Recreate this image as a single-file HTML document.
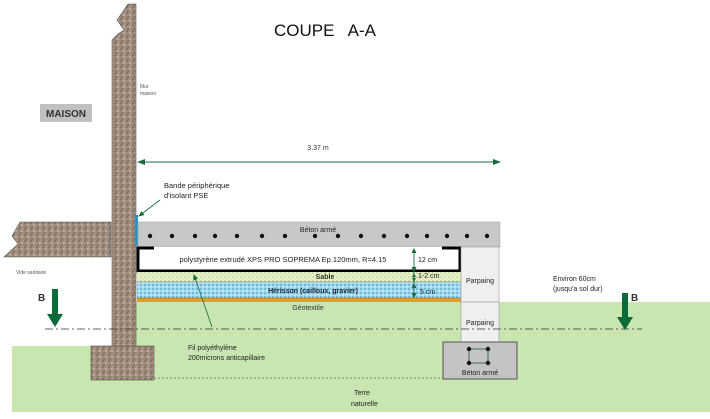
<!DOCTYPE html>
<html><head><meta charset="utf-8"><style>
html,body{margin:0;padding:0;background:#fff;width:710px;height:419px;overflow:hidden}
svg{display:block}
text{font-family:"Liberation Sans",Arial,sans-serif}
</style></head><body>
<svg width="710" height="419" viewBox="0 0 710 419" xmlns="http://www.w3.org/2000/svg">
<defs>
<pattern id="grav" width="6" height="6" patternUnits="userSpaceOnUse">
<rect width="6" height="6" fill="#a08c7c"/>
<circle cx="1" cy="1" r="0.8" fill="#6a5848"/><circle cx="4" cy="3" r="0.7" fill="#e8e0d8"/>
<circle cx="2" cy="5" r="0.6" fill="#5a4a40"/><circle cx="5" cy="0.5" r="0.5" fill="#c8bcb0"/>
</pattern>
<pattern id="sable" width="4" height="4" patternUnits="userSpaceOnUse">
<rect width="4" height="4" fill="#e4f2c8"/><circle cx="1" cy="1" r="0.6" fill="#9ab070"/><circle cx="3" cy="3" r="0.5" fill="#b8c890"/>
</pattern>
<pattern id="her" width="4" height="4" patternUnits="userSpaceOnUse">
<rect width="4" height="4" fill="#a0d8f0"/><circle cx="1" cy="1" r="0.7" fill="#2a8cc0"/><circle cx="3" cy="3" r="0.6" fill="#fff"/>
</pattern>
<marker id="ah" markerWidth="8" markerHeight="8" refX="7" refY="4" orient="auto" markerUnits="userSpaceOnUse"><path d="M0,1 L8,4 L0,7 z" fill="#1a6a40"/></marker>
<marker id="ahs" markerWidth="6" markerHeight="6" refX="5" refY="3" orient="auto" markerUnits="userSpaceOnUse"><path d="M0,0.5 L6,3 L0,5.5 z" fill="#1a6a40"/></marker>
</defs>

<rect x="136" y="302" width="574" height="45" fill="#c9e6b0"/>
<rect x="12" y="346" width="698" height="66" fill="#c9e6b0"/>

<text x="325" y="36" font-size="17" text-anchor="middle" fill="#111" xml:space="preserve">COUPE   A-A</text>

<rect x="40" y="104" width="52" height="18" fill="#c0c0c0"/>
<text x="66" y="117" font-size="10" font-weight="bold" text-anchor="middle" fill="#333">MAISON</text>

<path d="M4,257 L18,244 L12,236 L20,222 L111,222 L111,257 Z" fill="url(#grav)" stroke="#555" stroke-width="0.6"/>
<text x="16" y="274" font-size="5" fill="#555">Vide sanitaire</text>

<path d="M112,346 L112,40 L118,34 L124,30 L117,20 L128,4 L136,4 L136,346 Z" fill="url(#grav)" stroke="#555" stroke-width="0.6"/>
<text x="140" y="88" font-size="5" fill="#555">Mur</text>
<text x="140" y="95" font-size="5" fill="#555">maison</text>

<rect x="91" y="346" width="63" height="34" fill="url(#grav)" stroke="#555" stroke-width="0.6"/>

<text x="318" y="150" font-size="7" text-anchor="middle" fill="#333">3.37 m</text>
<line x1="140" y1="162" x2="500" y2="162" stroke="#1a6a40" stroke-width="1" marker-end="url(#ah)"/>
<path d="M137,162 l8,-3 v6 z" fill="#1a6a40"/>

<text x="164" y="188" font-size="7.5" fill="#222">Bande périphérique</text>
<text x="164" y="198" font-size="7.5" fill="#222">d'isolant PSE</text>
<line x1="160" y1="200" x2="139" y2="216" stroke="#1a6a40" stroke-width="0.8" marker-end="url(#ahs)"/>
<rect x="135" y="215" width="3" height="31" fill="#2a90c0"/>

<rect x="138" y="222" width="362" height="25" fill="#c8c8c8" stroke="#aaa" stroke-width="0.6"/>
<text x="318" y="232" font-size="7" text-anchor="middle" fill="#222">Béton armé</text>
<g fill="#111">
<circle cx="150" cy="236" r="2.2"/><circle cx="172" cy="236" r="2.2"/><circle cx="195" cy="236" r="2.2"/><circle cx="215" cy="236" r="2.2"/><circle cx="237" cy="236" r="2.2"/><circle cx="262" cy="236" r="2.2"/><circle cx="285" cy="236" r="2.2"/><circle cx="315" cy="236" r="2.2"/><circle cx="338" cy="236" r="2.2"/><circle cx="361" cy="236" r="2.2"/><circle cx="384" cy="236" r="2.2"/><circle cx="407" cy="236" r="2.2"/><circle cx="427" cy="236" r="2.2"/><circle cx="447" cy="236" r="2.2"/><circle cx="467" cy="236" r="2.2"/><circle cx="487" cy="236" r="2.2"/>
</g>

<rect x="138" y="247" width="322" height="24" fill="#fff"/>
<path d="M154,248 H138 V271 H460 V248 H442" fill="none" stroke="#000" stroke-width="3"/>
<text x="283" y="262" font-size="7.5" text-anchor="middle" fill="#222">polystyrène extrudé XPS PRO SOPREMA Ep.120mm, R=4.15</text>
<rect x="137" y="272" width="324" height="10" fill="url(#sable)"/>
<line x1="137" y1="282" x2="461" y2="282" stroke="#7a9a8a" stroke-width="1"/>
<text x="325" y="279" font-size="7" font-weight="bold" text-anchor="middle" fill="#333">Sable</text>
<rect x="137" y="283" width="324" height="15" fill="url(#her)"/>
<text x="313" y="293" font-size="7" font-weight="bold" text-anchor="middle" fill="#223">Hérisson (cailloux, gravier)</text>
<rect x="137" y="298" width="324" height="4" fill="#e0a020"/>
<line x1="137" y1="298" x2="461" y2="298" stroke="#666" stroke-width="0.5"/>
<text x="308" y="310" font-size="7" text-anchor="middle" fill="#333">Géotextile</text>

<line x1="414" y1="249" x2="414" y2="298" stroke="#1a6a40" stroke-width="0.9"/>
<path d="M414,248 l-2.5,5 h5z M414,272 l-2.5,-5 h5z M414,273 l-2.5,5 h5z M414,282 l-2.5,-5 h5z M414,283 l-2.5,5 h5z M414,298 l-2.5,-5 h5z" fill="#1a6a40"/>
<text x="418" y="262" font-size="7" fill="#222">12 cm</text>
<text x="418" y="278" font-size="7" fill="#222">1-2 cm</text>
<text x="420" y="294" font-size="7" fill="#222">5 cm</text>

<rect x="461" y="247" width="38" height="55" fill="#efefef" stroke="#999" stroke-width="0.6"/>
<rect x="461" y="302" width="38" height="40" fill="#efefef" stroke="#999" stroke-width="0.6"/>
<text x="480" y="283" font-size="7" text-anchor="middle" fill="#222">Parpaing</text>
<text x="480" y="325" font-size="7" text-anchor="middle" fill="#222">Parpaing</text>

<rect x="443" y="342" width="74" height="37" fill="#c4c4c4" stroke="#555" stroke-width="1"/>
<rect x="469" y="349" width="19" height="14" fill="none" stroke="#1a5a3a" stroke-width="0.8"/>
<g fill="#111"><circle cx="469" cy="349" r="2.2"/><circle cx="488" cy="349" r="2.2"/><circle cx="469" cy="363" r="2.2"/><circle cx="488" cy="363" r="2.2"/></g>
<text x="480" y="375" font-size="7" text-anchor="middle" fill="#222">Béton armé</text>

<line x1="45" y1="329" x2="642" y2="329" stroke="#333" stroke-width="0.8" stroke-dasharray="8,3,2,3"/>
<line x1="154" y1="378" x2="443" y2="378" stroke="#4a7a4a" stroke-width="0.8" stroke-dasharray="2,2"/>

<line x1="212" y1="327" x2="194" y2="275" stroke="#1a6a40" stroke-width="0.8" marker-end="url(#ahs)"/>
<text x="188" y="350" font-size="7" fill="#222">Fil polyéthylène</text>
<text x="188" y="360" font-size="7" fill="#222">200microns anticapillaire</text>

<text x="553" y="281" font-size="7" fill="#222">Environ 60cm</text>
<text x="553" y="291" font-size="7" fill="#222">(jusqu'a sol dur)</text>
<text x="354" y="395" font-size="7" fill="#222">Terre</text>
<text x="351" y="406" font-size="7" fill="#222">naturelle</text>

<text x="38" y="301" font-size="10" font-weight="bold" fill="#333">B</text>
<rect x="52" y="289" width="6" height="26" fill="#0a6a3a"/>
<path d="M47,314 H63 L55,327 Z" fill="#0a6a3a"/>
<text x="631" y="301" font-size="10" font-weight="bold" fill="#333">B</text>
<rect x="622" y="293" width="6" height="25" fill="#0a6a3a"/>
<path d="M617,317 H633 L625,330 Z" fill="#0a6a3a"/>
</svg>
</body></html>
